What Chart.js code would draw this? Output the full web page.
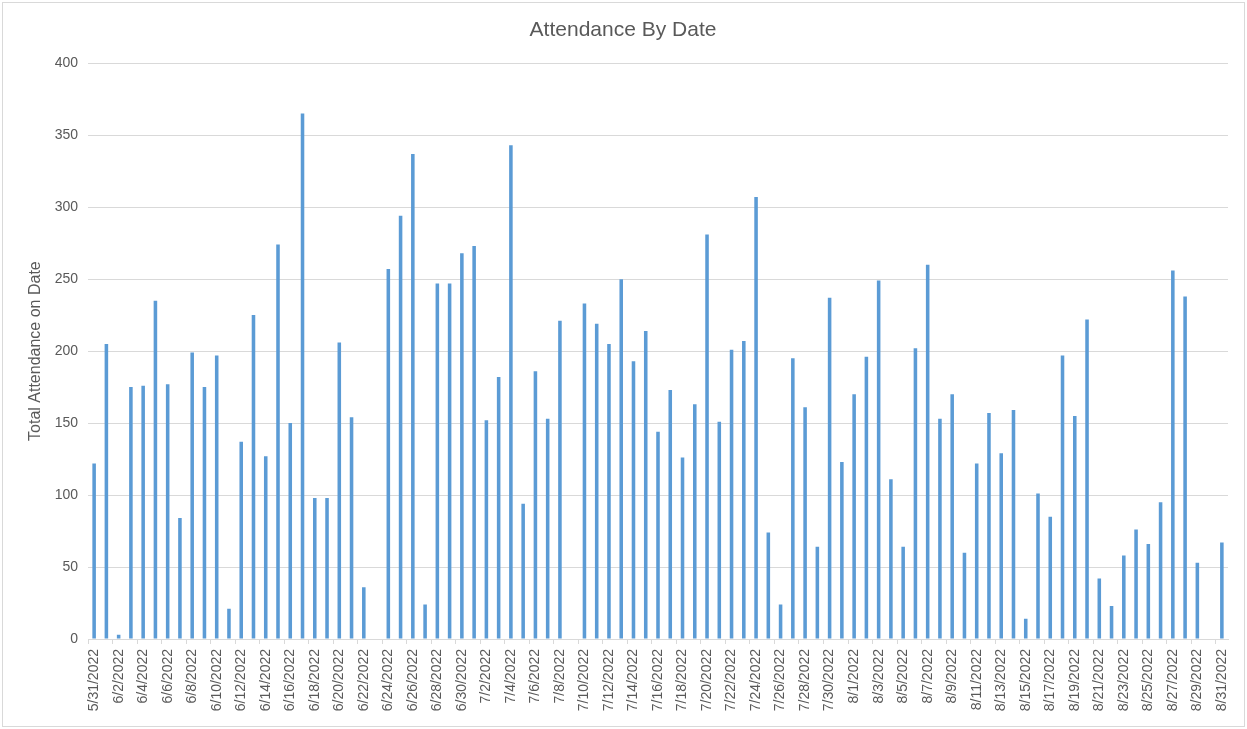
<!DOCTYPE html>
<html>
<head>
<meta charset="utf-8">
<script src="https://cdn.jsdelivr.net/npm/chart.js@4.4.0/dist/chart.umd.min.js"></script>
<style>
  html, body { margin: 0; padding: 0; background: #fff; }
  #wrap {
    position: absolute; left: 2px; top: 2px;
    width: 1243px; height: 725px;
    box-sizing: border-box; border: 1px solid #d9d9d9;
  }
</style>
</head>
<body>
<div id="wrap"><canvas id="chart"></canvas></div>
<script>
// dates 5/31/2022 .. 8/31/2022, one bar per day
const dates = [
  "5/31/2022",
  "6/1/2022", "6/2/2022", "6/3/2022", "6/4/2022", "6/5/2022", "6/6/2022", "6/7/2022", "6/8/2022", "6/9/2022", "6/10/2022",
  "6/11/2022", "6/12/2022", "6/13/2022", "6/14/2022", "6/15/2022", "6/16/2022", "6/17/2022", "6/18/2022", "6/19/2022", "6/20/2022",
  "6/21/2022", "6/22/2022", "6/23/2022", "6/24/2022", "6/25/2022", "6/26/2022", "6/27/2022", "6/28/2022", "6/29/2022", "6/30/2022",
  "7/1/2022", "7/2/2022", "7/3/2022", "7/4/2022", "7/5/2022", "7/6/2022", "7/7/2022", "7/8/2022", "7/9/2022", "7/10/2022",
  "7/11/2022", "7/12/2022", "7/13/2022", "7/14/2022", "7/15/2022", "7/16/2022", "7/17/2022", "7/18/2022", "7/19/2022", "7/20/2022",
  "7/21/2022", "7/22/2022", "7/23/2022", "7/24/2022", "7/25/2022", "7/26/2022", "7/27/2022", "7/28/2022", "7/29/2022", "7/30/2022", "7/31/2022",
  "8/1/2022", "8/2/2022", "8/3/2022", "8/4/2022", "8/5/2022", "8/6/2022", "8/7/2022", "8/8/2022", "8/9/2022", "8/10/2022",
  "8/11/2022", "8/12/2022", "8/13/2022", "8/14/2022", "8/15/2022", "8/16/2022", "8/17/2022", "8/18/2022", "8/19/2022", "8/20/2022",
  "8/21/2022", "8/22/2022", "8/23/2022", "8/24/2022", "8/25/2022", "8/26/2022", "8/27/2022", "8/28/2022", "8/29/2022", "8/30/2022", "8/31/2022"
];

const attendance = [
  122,
  205, 3, 175, 176, 235, 177, 84, 199, 175, 197,
  21, 137, 225, 127, 274, 150, 365, 98, 98, 206,
  154, 36, 0, 257, 294, 337, 24, 247, 247, 268,
  273, 152, 182, 343, 94, 186, 153, 221, 0, 233,
  219, 205, 250, 193, 214, 144, 173, 126, 163, 281,
  151, 201, 207, 307, 74, 24, 195, 161, 64, 237, 123,
  170, 196, 249, 111, 64, 202, 260, 153, 170, 60,
  122, 157, 129, 159, 14, 101, 85, 197, 155, 222,
  42, 23, 58, 76, 66, 95, 256, 238, 53, 0, 67
];

const yTicks = [0, 50, 100, 150, 200, 250, 300, 350, 400];

const textColor = "#595959";
const gridColor = "#d9d9d9";
const fontFamily = "'Liberation Sans', Arial, sans-serif";

new Chart(document.getElementById("chart"), {
  type: "bar",
  data: {
    labels: dates,
    datasets: [{
      label: "Total Attendance",
      data: attendance,
      backgroundColor: "#5b9bd5",
      barPercentage: 0.29,
      categoryPercentage: 1.0,
    }],
  },
  options: {
    responsive: true,
    maintainAspectRatio: false,
    animation: false,
    // equal side padding keeps the title centred on the whole chart like Excel
    layout: { padding: { left: 15, right: 16, top: 0, bottom: 3 } },
    plugins: {
      legend: { display: false },
      tooltip: { enabled: false },
      title: {
        display: true,
        text: "Attendance By Date",
        color: textColor,
        font: { family: fontFamily, size: 21, weight: "normal" },
        padding: { top: 15, bottom: 20 },
      },
    },
    scales: {
      x: {
        grid: {
          drawOnChartArea: false,
          drawTicks: true,
          tickLength: 5,
          color: ctx => (ctx.index % 2 === 0 ? gridColor : "rgba(0,0,0,0)"),
        },
        border: { display: true, color: gridColor },
        ticks: {
          autoSkip: false,
          minRotation: 90,
          maxRotation: 90,
          padding: 5,
          color: textColor,
          font: { family: fontFamily, size: 14 },
          callback: function (val, i) {
            return i % 2 === 0 ? this.getLabelForValue(val) : "";
          },
        },
        afterFit: scale => { scale.height = 84; },
      },
      y: {
        min: 0,
        max: 400,
        afterBuildTicks: scale => { scale.ticks = yTicks.map(v => ({ value: v })); },
        grid: { color: gridColor, drawTicks: false },
        border: { display: false },
        ticks: {
          padding: 10,
          color: textColor,
          font: { family: fontFamily, size: 14 },
        },
        title: {
          display: true,
          text: "Total Attendance on Date",
          color: textColor,
          font: { family: fontFamily, size: 16 },
          padding: { top: 8, bottom: 0 },
        },
        afterFit: scale => { scale.width = 70; },
      },
    },
  },
});
</script>
</body>
</html>
